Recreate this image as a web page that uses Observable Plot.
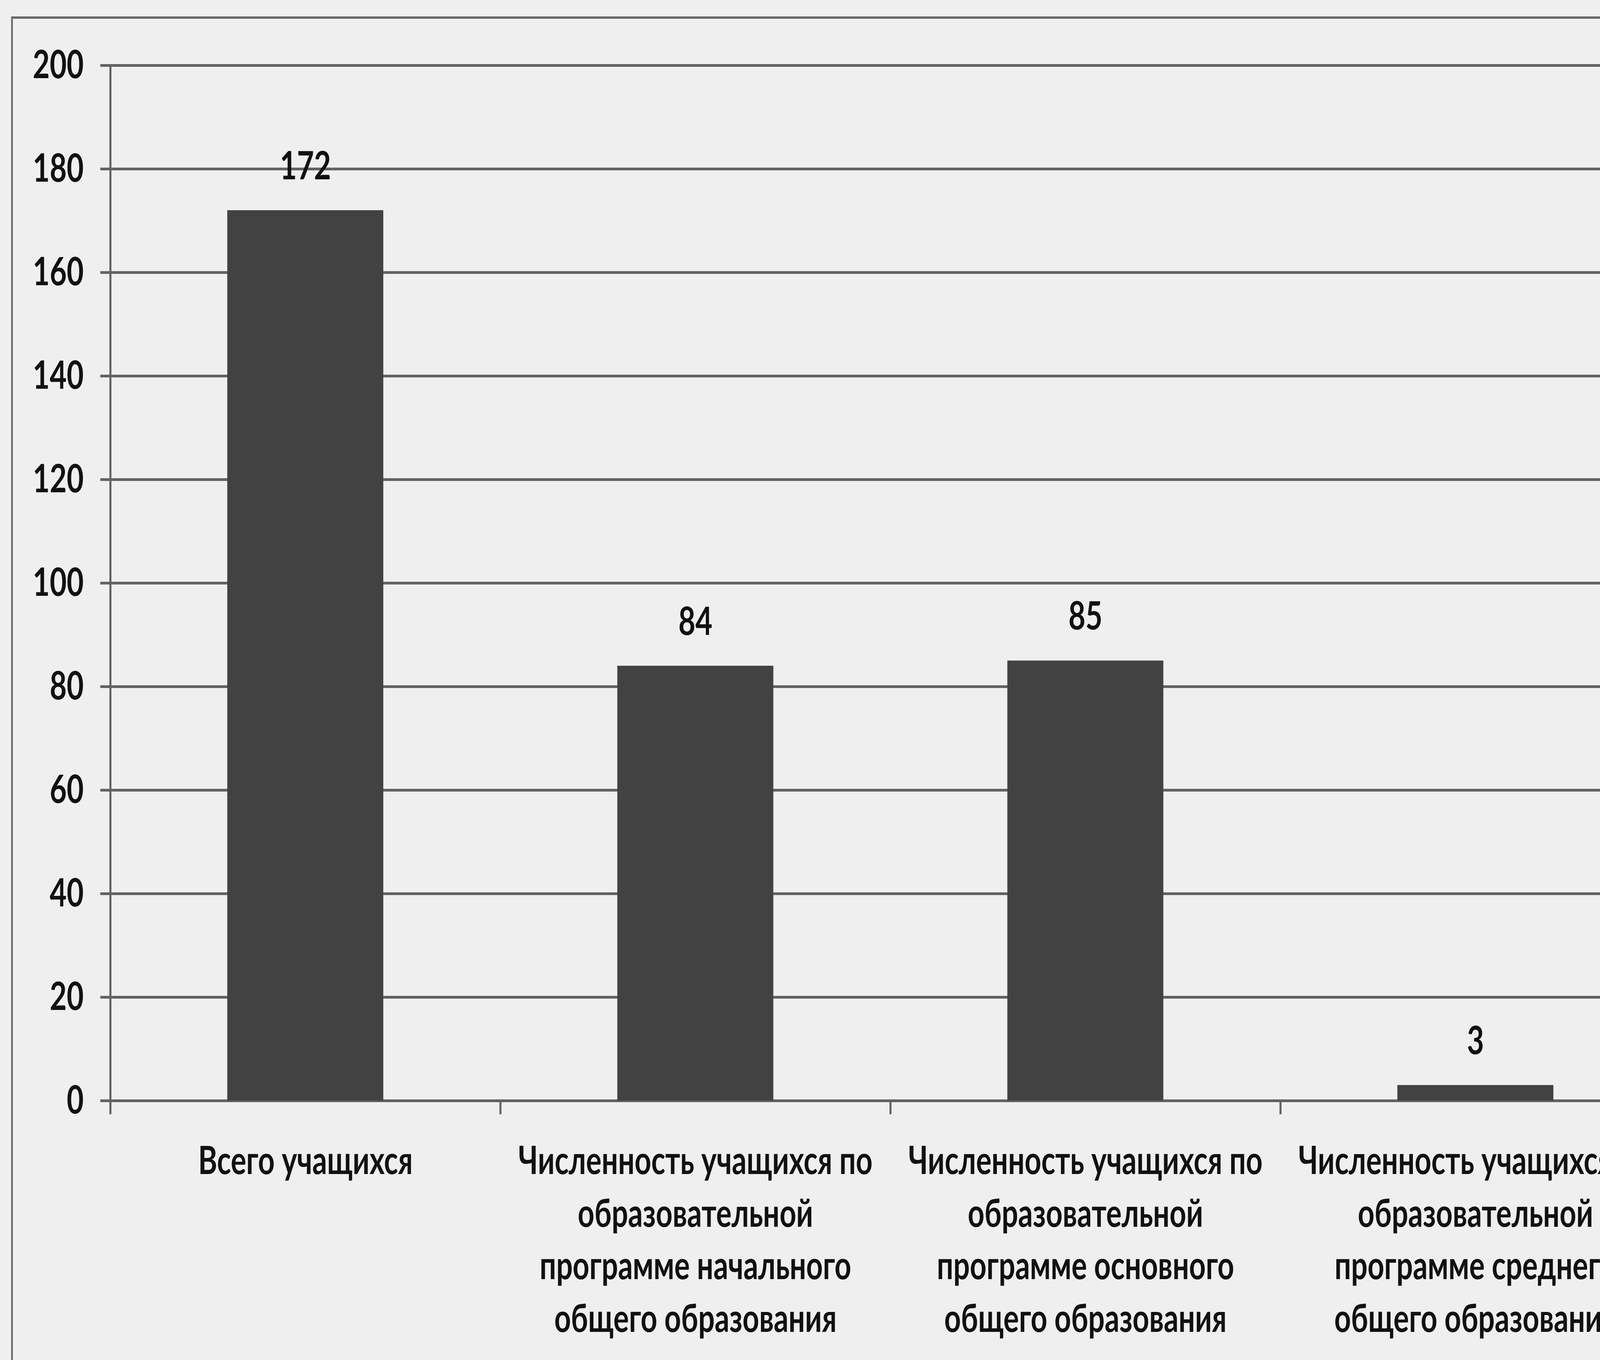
<!DOCTYPE html>
<html>
<head>
<meta charset="utf-8">
<script src="https://cdn.jsdelivr.net/npm/d3@7"></script>
<script src="https://cdn.jsdelivr.net/npm/@observablehq/plot@0.6"></script>
<style>
  html, body { margin: 0; padding: 0; background: #efefef; overflow: hidden; }
  #viewport { position: relative; overflow: hidden; background: #efefef; }
  #wrap { position: absolute; left: 0; top: 0; width: 5456px; height: 3481px; overflow: hidden; background: #efefef; transform-origin: 0 0; }
  #chart { position: absolute; left: 0; top: 0; }
  #border { position: absolute; left: 38px; top: 42px; width: 6000px; height: 4000px; border: 6px solid #6a6a6a; box-sizing: border-box; pointer-events: none; }
</style>
</head>
<body>
<div id="viewport">
<div id="wrap">
<div id="border"></div>
<div id="chart"></div>
</div>
</div>
<script>
const categories = [
  "Всего учащихся",
  "Численность учащихся по образовательной программе начального общего образования",
  "Численность учащихся по образовательной программе основного общего образования",
  "Численность учащихся по образовательной программе среднего общего образования"
];
const values = [172, 84, 85, 3];
const tickLabels = [
  "Всего учащихся",
  "Численность учащихся по\nобразовательной\nпрограмме начального\nобщего образования",
  "Численность учащихся по\nобразовательной\nпрограмме основного\nобщего образования",
  "Численность учащихся по\nобразовательной\nпрограмме среднего\nобщего образования"
];
const yTicks = [0, 20, 40, 60, 80, 100, 120, 140, 160, 180, 200];

const W = 5456, H = 3481;
const data = categories.map((c, i) => ({category: c, index: i, value: values[i], label: tickLabels[i]}));
const boundaries = d3.range(categories.length + 1);
const centers = data.map(d => d.index + 0.5);

const gridColor = "#626262";
const font = "Lato, 'Open Sans', sans-serif";

const chart = Plot.plot({
  width: W,
  height: H,
  marginTop: 167,
  marginBottom: 664,
  marginLeft: 376,
  marginRight: 0,
  style: {background: "transparent", fontFamily: font, overflow: "visible", color: "#111"},
  x: {type: "linear", domain: [0, categories.length], range: [376, 376 + 1330 * categories.length], axis: null},
  y: {domain: [0, 200], axis: null},
  marks: [
    Plot.gridY(yTicks, {stroke: gridColor, strokeOpacity: 1, strokeWidth: 7}),
    Plot.axisY({ticks: yTicks, tickSize: 34, tickPadding: 57, stroke: gridColor, strokeWidth: 7, fill: "#111",
      fontSize: 100, fontWeight: "bold", label: null}),
    Plot.ruleX([0], {stroke: gridColor, strokeWidth: 7}),
    Plot.axisX({ticks: boundaries, tickSize: 35, tickFormat: () => "", stroke: gridColor, strokeWidth: 7, label: null}),
    Plot.rectY(data, {x1: d => d.index + 0.3, x2: d => d.index + 0.7, y: "value", fill: "#424242"}),
    Plot.text(data, {x: d => d.index + 0.5, y: "value", text: d => String(d.value), dy: -112,
      fontSize: 100, fontWeight: "bold", fill: "#111"}),
    Plot.axisX({ticks: centers, tickSize: 0, tickPadding: 92, tickFormat: d => tickLabels[Math.floor(d)],
      fontSize: 99, fontWeight: "bold", lineHeight: 1.36, fill: "#111", label: null})
  ]
});
document.getElementById("chart").appendChild(chart);

// The window may be narrower than the requested 5456 px; map the 5456×3481 design onto it.
function fit() {
  const vw = document.documentElement.clientWidth || window.innerWidth || W;
  const vh = document.documentElement.clientHeight || window.innerHeight || H;
  const sx = vw / W, sy = vh / H;
  const vp = document.getElementById("viewport");
  vp.style.width = vw + "px";
  vp.style.height = vh + "px";
  document.getElementById("wrap").style.transform = `scale(${sx}, ${sy})`;
}
fit();
window.addEventListener("resize", fit);
</script>
</body>
</html>
